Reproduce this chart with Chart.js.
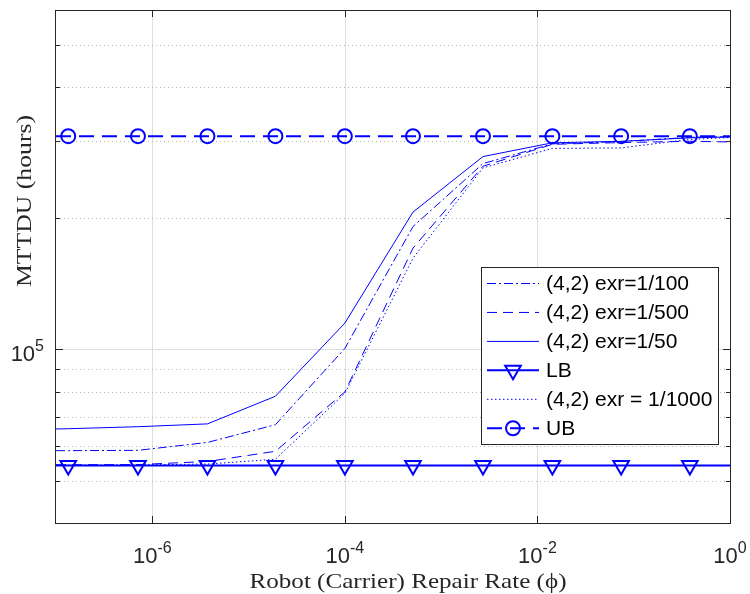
<!DOCTYPE html>
<html>
<head>
<meta charset="utf-8">
<title>MTTDU vs robot repair rate</title>
<script src="https://cdn.jsdelivr.net/npm/chart.js@4.4.1/dist/chart.umd.min.js"></script>
<style>
  html, body { margin: 0; padding: 0; background: #fff; }
</style>
</head>
<body>
<canvas id="chart" width="750" height="594"></canvas>
<script>
// Data
const repairRate = [1e-7, 1.34e-7, 7.1e-7, 3.74e-6, 1.9e-5, 1.0e-4, 5.1e-4, 2.72e-3, 1.43e-2, 7.4e-2, 3.83e-1, 1];
const exr100  = [58600, 58600, 58700, 61200, 67200, 100500, 191300, 266700, 296000, 299600, 306400, 307500];
const exr500  = [54400, 54400, 54450, 55350, 58400, 79900, 170700, 263000, 295300, 298000, 300000, 299000];
const exr50   = [65700, 65800, 66500, 67500, 78100, 114900, 206500, 276800, 297600, 300000, 305500, 307000];
const lowerBound = [54200, 54200, 54200, 54200, 54200, 54200, 54200, 54200, 54200, 54200, 54200, 54200];
const exr1000 = [54300, 54300, 54350, 54600, 56000, 79300, 161900, 260700, 289000, 289700, 303000, 306000];
const upperBound = [308200, 308200, 308200, 308200, 308200, 308200, 308200, 308200, 308200, 308200, 308200, 308200];

const seriesLabels = ['(4,2) exr=1/100', '(4,2) exr=1/500', '(4,2) exr=1/50', 'LB', '(4,2) exr = 1/1000', 'UB'];

// Axis ticks
const xTickExponents = [-6, -4, -2, 0];
const yMajorTicks = [1e5];
const yMinorTicks = [4e4, 5e4, 6e4, 7e4, 8e4, 9e4, 2e5, 3e5, 4e5, 5e5, 6e5];

const BLUE = '#0000ff';
const AXIS = '#262626';

function toPoints(values) {
    return repairRate.map((x, i) => ({ x: x, y: values[i] }));
}

// markers only on the inner points of the bound lines
function innerMarker(r) {
    return (ctx) => (ctx.dataIndex === 0 || ctx.dataIndex === repairRate.length - 1) ? 0 : r;
}

const datasets = [
    { label: seriesLabels[0], data: toPoints(exr100), borderColor: BLUE, borderWidth: 1, borderDash: [9, 3, 2, 3], pointRadius: 0 },
    { label: seriesLabels[1], data: toPoints(exr500), borderColor: BLUE, borderWidth: 1, borderDash: [10, 6], pointRadius: 0 },
    { label: seriesLabels[2], data: toPoints(exr50), borderColor: BLUE, borderWidth: 1, pointRadius: 0 },
    { label: seriesLabels[3], data: toPoints(lowerBound), borderColor: BLUE, borderWidth: 2,
      pointStyle: 'triangle', pointRotation: 180, pointRadius: innerMarker(9),
      pointBorderColor: BLUE, pointBorderWidth: 2, pointBackgroundColor: 'rgba(0,0,0,0)' },
    { label: seriesLabels[4], data: toPoints(exr1000), borderColor: BLUE, borderWidth: 1, borderDash: [1.5, 2.5], pointRadius: 0 },
    { label: seriesLabels[5], data: toPoints(upperBound), borderColor: BLUE, borderWidth: 2, borderDash: [15, 8],
      pointStyle: 'circle', pointRadius: innerMarker(7),
      pointBorderColor: BLUE, pointBorderWidth: 2, pointBackgroundColor: 'rgba(0,0,0,0)' }
];

// draw text stretched along its own direction to a given width
function fitText(ctx, text, cx, cy, width, angle) {
    ctx.save();
    ctx.translate(cx, cy);
    ctx.rotate(angle);
    const w = ctx.measureText(text).width;
    ctx.scale(width / w, 1);
    ctx.textAlign = 'center';
    ctx.textBaseline = 'middle';
    ctx.fillText(text, 0, 0);
    ctx.restore();
}

// "10" with a raised exponent
function drawPower(ctx, exp, x, baseY, align) {
    ctx.save();
    ctx.textBaseline = 'alphabetic';
    ctx.textAlign = 'left';
    ctx.font = '22px "Liberation Sans", Arial, sans-serif';
    const wBase = ctx.measureText('10').width;
    ctx.font = '16px "Liberation Sans", Arial, sans-serif';
    const wExp = ctx.measureText(exp).width;
    let left = align === 'center' ? x - (wBase + wExp) / 2 : x - (wBase + wExp);
    ctx.fillStyle = '#262626';
    ctx.font = '22px "Liberation Sans", Arial, sans-serif';
    ctx.fillText('10', left, baseY);
    ctx.font = '16px "Liberation Sans", Arial, sans-serif';
    ctx.fillText(exp, left + wBase, baseY - 10);
    ctx.restore();
}

function drawLegendMarker(ctx, style, x, y) {
    ctx.beginPath();
    if (style === 'circle') {
        ctx.arc(x, y, 7, 0, Math.PI * 2);
    } else {
        const r = 9;
        ctx.moveTo(x, y + r);
        ctx.lineTo(x - r * Math.sin(Math.PI / 3), y - r / 2);
        ctx.lineTo(x + r * Math.sin(Math.PI / 3), y - r / 2);
        ctx.closePath();
    }
    ctx.stroke();
}

const matlabAxes = {
    id: 'matlabAxes',
    beforeDatasetsDraw(chart) {
        const { ctx, chartArea: a, scales } = chart;
        ctx.save();
        ctx.lineWidth = 1;
        // major grid
        ctx.strokeStyle = '#dedede';
        xTickExponents.forEach(e => {
            const px = Math.round(scales.x.getPixelForValue(Math.pow(10, e))) + 0.5;
            ctx.beginPath(); ctx.moveTo(px, a.top); ctx.lineTo(px, a.bottom); ctx.stroke();
        });
        yMajorTicks.forEach(v => {
            const py = Math.round(scales.y.getPixelForValue(v)) + 0.5;
            ctx.beginPath(); ctx.moveTo(a.left, py); ctx.lineTo(a.right, py); ctx.stroke();
        });
        // minor grid, dotted
        ctx.strokeStyle = '#b8b8b8';
        ctx.setLineDash([1, 3]);
        yMinorTicks.forEach(v => {
            const py = Math.round(scales.y.getPixelForValue(v)) + 0.5;
            ctx.beginPath(); ctx.moveTo(a.left, py); ctx.lineTo(a.right, py); ctx.stroke();
        });
        ctx.restore();
    },
    afterDatasetsDraw(chart) {
        const { ctx, chartArea: a, scales } = chart;
        ctx.save();
        ctx.strokeStyle = AXIS;
        ctx.lineWidth = 1;
        // box
        ctx.strokeRect(a.left - 0.5, a.top + 0.5, a.right - a.left + 1, a.bottom - a.top);
        // inward ticks
        xTickExponents.forEach(e => {
            const px = Math.round(scales.x.getPixelForValue(Math.pow(10, e))) + 0.5;
            ctx.beginPath();
            ctx.moveTo(px, a.bottom); ctx.lineTo(px, a.bottom - 7);
            ctx.moveTo(px, a.top); ctx.lineTo(px, a.top + 7);
            ctx.stroke();
        });
        yMajorTicks.concat(yMinorTicks).forEach(v => {
            const len = yMajorTicks.includes(v) ? 7 : 4;
            const py = Math.round(scales.y.getPixelForValue(v)) + 0.5;
            ctx.beginPath();
            ctx.moveTo(a.left, py); ctx.lineTo(a.left + len, py);
            ctx.moveTo(a.right, py); ctx.lineTo(a.right - len, py);
            ctx.stroke();
        });
        // tick labels
        xTickExponents.forEach(e => {
            const px = scales.x.getPixelForValue(Math.pow(10, e));
            drawPower(ctx, String(e), px, a.bottom + 40, 'center');
        });
        yMajorTicks.forEach(v => {
            const py = scales.y.getPixelForValue(v);
            drawPower(ctx, String(Math.round(Math.log10(v))), 44, py + 12, 'right');
        });
        // axis titles
        ctx.fillStyle = '#262626';
        ctx.font = '21px "Liberation Serif", "Times New Roman", serif';
        fitText(ctx, 'Robot (Carrier) Repair Rate (\u03D5)', 408, 582, 317, 0);
        fitText(ctx, 'MTTDU (hours)', 25, 201, 172, -Math.PI / 2);

        // legend
        const lx = 481, ly = 267, lw = 237, lh = 177;
        ctx.fillStyle = '#ffffff';
        ctx.fillRect(lx, ly, lw, lh);
        ctx.strokeStyle = AXIS;
        ctx.strokeRect(lx + 0.5, ly + 0.5, lw, lh);
        chart.data.datasets.forEach((ds, i) => {
            const y = 283.5 + i * 28.95;
            ctx.strokeStyle = ds.borderColor;
            ctx.lineWidth = ds.borderWidth;
            ctx.setLineDash(ds.borderDash || []);
            ctx.beginPath(); ctx.moveTo(487, y); ctx.lineTo(539, y); ctx.stroke();
            ctx.setLineDash([]);
            if (ds.pointStyle) {
                ctx.lineWidth = 2;
                drawLegendMarker(ctx, ds.pointStyle, 513, y);
            }
            ctx.fillStyle = '#000000';
            ctx.font = '21px "Liberation Sans", Arial, sans-serif';
            ctx.textAlign = 'left';
            ctx.textBaseline = 'middle';
            ctx.fillText(ds.label, 546, y + 1);
        });
        ctx.restore();
    }
};

new Chart(document.getElementById('chart'), {
    type: 'line',
    data: { datasets: datasets },
    options: {
        responsive: false,
        animation: false,
        devicePixelRatio: 1,
        layout: { padding: { left: 56, right: 20, top: 10, bottom: 71 } },
        elements: { line: { tension: 0 } },
        scales: {
            x: { type: 'logarithmic', min: 1e-7, max: 1, display: false },
            y: { type: 'logarithmic', min: 4e4, max: 6e5, display: false }
        },
        plugins: {
            legend: { display: false },
            tooltip: { enabled: false }
        }
    },
    plugins: [matlabAxes]
});
</script>
</body>
</html>
